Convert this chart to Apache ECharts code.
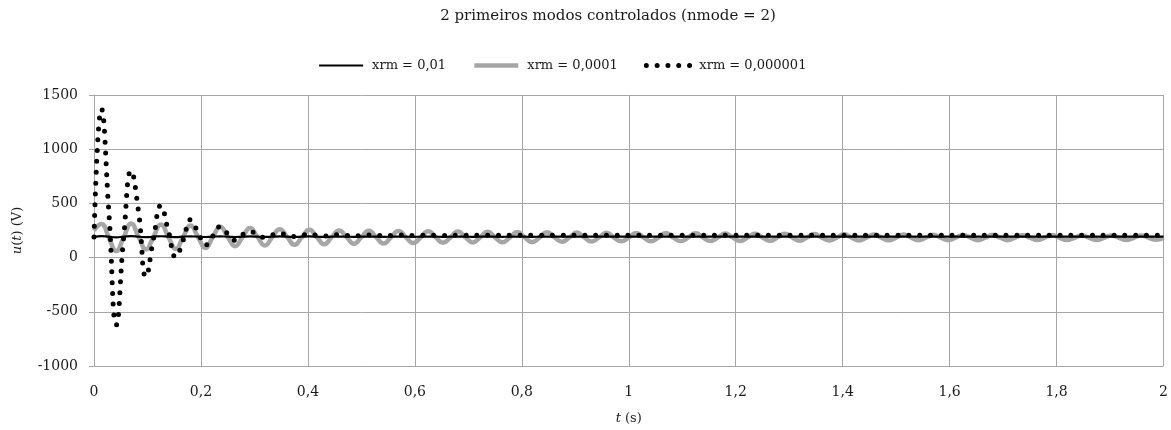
<!DOCTYPE html>
<html>
<head>
<meta charset="utf-8">
<script src="https://cdn.jsdelivr.net/npm/echarts@6/dist/echarts.min.js"></script>
<style>
  html, body { margin: 0; padding: 0; background: #ffffff; }
  #chart { width: 1171px; height: 430px; }
</style>
</head>
<body>
<div id="chart"></div>
<script>
// Control voltage u(t) for three values of the regularisation weight xrm
const chartTitle = '2 primeiros modos controlados (nmode = 2)';
const seriesNames = ['xrm = 0,01', 'xrm = 0,0001', 'xrm = 0,000001'];
const sampleRate = 72; // samples per second, from t = 0 to t = 2 s

const xTickValues = [0, 0.2, 0.4, 0.6, 0.8, 1, 1.2, 1.4, 1.6, 1.8, 2];
const yTickValues = [-1000, -500, 0, 500, 1000, 1500];

// xrm = 0,01 : almost constant command
const uXrm1 = [
  190, 199, 193, 187, 193, 198, 193, 188, 193, 197, 193, 189, 193, 196, 193, 190,
  193, 196, 193, 190, 193, 195, 193, 191, 193, 195, 193, 191, 193, 195, 193, 191,
  193, 194, 193, 192, 193, 194, 193, 192, 193, 194, 193, 192, 193, 194, 193, 192,
  193, 194, 193, 192, 193, 194, 193, 192, 193, 194, 193, 192, 193, 193, 193, 193,
  193, 193, 193, 193, 193, 193, 193, 193, 193, 193, 193, 193, 193, 193, 193, 193,
  193, 193, 193, 193, 193, 193, 193, 193, 193, 193, 193, 193, 193, 193, 193, 193,
  193, 193, 193, 193, 193, 193, 193, 193, 193, 193, 193, 193, 193, 193, 193, 193,
  193, 193, 193, 193, 193, 193, 193, 193, 193, 193, 193, 193, 193, 193, 193, 193,
  193, 193, 193, 193, 193, 193, 193, 193, 193, 193, 193, 193, 193, 193, 193, 193,
  193
];

// xrm = 0,0001 : slowly decaying oscillation
const uXrm2 = [
  250, 310, 185,  60, 188, 315, 192,  75, 190, 305, 192,  80, 190, 295, 191,  88,
  190, 285, 192, 105, 189, 272, 191, 112, 188, 262, 190, 118, 188, 256, 189, 123,
  188, 251, 189, 127, 188, 248, 188, 131, 188, 245, 188, 134, 187, 242, 188, 137,
  187, 240, 188, 140, 187, 238, 187, 142, 187, 236, 187, 144, 186, 234, 187, 146,
  186, 232, 186, 148, 186, 230, 186, 150, 186, 228, 186, 151, 186, 226, 185, 152,
  185, 224, 185, 153, 185, 222, 185, 154, 185, 221, 185, 155, 185, 219, 185, 156,
  185, 217, 184, 157, 184, 215, 184, 158, 184, 213, 184, 159, 184, 212, 184, 160,
  184, 210, 184, 160, 184, 209, 184, 161, 184, 208, 184, 161, 184, 207, 184, 162,
  184, 206, 183, 162, 183, 205, 183, 163, 183, 204, 183, 163, 183, 203, 183, 164,
  183
];

// xrm = 0,000001 : large initial swing, fast settling
const uXrm3 = [
  190, 1370, 420, -620, 191, 800, 420, -175, 170, 480, 250,   5, 160, 350, 235, 115,
  200, 285, 220, 160, 212, 239, 210, 185, 209, 224, 208, 194, 206, 215, 206, 200,
  205, 211, 205, 201, 205, 209, 205, 202, 205, 208, 205, 203, 205, 207, 205, 204,
  206, 207, 206, 205, 206, 207, 206, 205, 206, 207, 206, 205, 206, 206, 206, 206,
  206, 206, 206, 206, 206, 206, 206, 206, 206, 206, 206, 206, 206, 206, 206, 206,
  206, 206, 206, 206, 206, 206, 206, 206, 206, 206, 206, 206, 206, 206, 206, 206,
  206, 206, 206, 206, 206, 206, 206, 206, 206, 206, 206, 206, 206, 206, 206, 206,
  206, 206, 206, 206, 206, 206, 206, 206, 206, 206, 206, 206, 206, 206, 206, 206,
  206, 206, 206, 206, 206, 206, 206, 206, 206, 206, 206, 206, 206, 206, 206, 206,
  206
];

const FONT = 'DejaVu Serif';
const TEXT = '#1a1a1a';
const GRID = '#a6a6a6';

const toPairs = arr => arr.map((v, i) => [i / sampleRate, v]);
const decimalComma = v => String(+v.toFixed(1)).replace('.', ',');
const plainNumber = v => String(v);

const chart = echarts.init(document.getElementById('chart'), null, { renderer: 'canvas' });

chart.setOption({
  animation: false,
  backgroundColor: '#ffffff',
  title: {
    text: chartTitle,
    left: 603,
    top: 4,
    textAlign: 'center',
    textStyle: { fontFamily: FONT, fontSize: 15, fontWeight: 'normal', color: TEXT }
  },
  legend: {
    data: seriesNames,
    left: 313,
    top: 54,
    itemWidth: 44,
    itemHeight: 10,
    itemGap: 26,
    itemStyle: { opacity: 0 },
    lineStyle: { width: 'inherit' },
    textStyle: { fontFamily: FONT, fontSize: 13, color: TEXT, padding: [0, 0, 0, 4] }
  },
  grid: { left: 94, right: 6, top: 95, bottom: 59, containLabel: false },
  xAxis: {
    type: 'value',
    min: xTickValues[0],
    max: xTickValues[xTickValues.length - 1],
    interval: 0.2,
    name: '{i|t} (s)',
    nameLocation: 'middle',
    nameGap: 46,
    nameTextStyle: {
      fontFamily: FONT, fontSize: 13, color: TEXT,
      rich: { i: { fontFamily: FONT, fontSize: 13, fontStyle: 'italic', color: TEXT } }
    },
    axisLine: { show: true, lineStyle: { color: GRID, width: 1 } },
    axisTick: { show: false },
    axisLabel: {
      margin: 19, fontFamily: FONT, fontSize: 14, color: TEXT,
      formatter: decimalComma
    },
    splitLine: { show: true, lineStyle: { color: GRID, width: 1 } }
  },
  yAxis: {
    type: 'value',
    min: yTickValues[0],
    max: yTickValues[yTickValues.length - 1],
    interval: 500,
    name: '{i|u}({i|t}) (V)',
    nameLocation: 'middle',
    nameGap: 70,
    nameRotate: 90,
    nameTextStyle: {
      fontFamily: FONT, fontSize: 13, color: TEXT,
      rich: { i: { fontFamily: FONT, fontSize: 13, fontStyle: 'italic', color: TEXT } }
    },
    axisLine: { show: true, lineStyle: { color: GRID, width: 1 } },
    axisTick: { show: true, length: 5, lineStyle: { color: GRID } },
    axisLabel: { margin: 16, fontFamily: FONT, fontSize: 14, color: TEXT, formatter: plainNumber },
    splitLine: { show: true, lineStyle: { color: GRID, width: 1 } }
  },
  series: [
    {
      name: seriesNames[1],
      type: 'line',
      data: toPairs(uXrm2),
      smooth: 0.5,
      showSymbol: false,
      symbol: 'none',
      z: 2,
      color: '#a6a6a6',
      lineStyle: { color: '#a6a6a6', width: 4.5 }
    },
    {
      name: seriesNames[0],
      type: 'line',
      data: toPairs(uXrm1),
      smooth: 0.5,
      showSymbol: false,
      symbol: 'none',
      z: 3,
      color: '#000000',
      lineStyle: { color: '#000000', width: 2.2 }
    },
    {
      name: seriesNames[2],
      type: 'line',
      data: toPairs(uXrm3),
      smooth: 0.5,
      showSymbol: false,
      symbol: 'none',
      z: 4,
      color: '#000000',
      lineStyle: { color: '#000000', width: 5, type: [0, 10.8], cap: 'round' }
    }
  ]
});
</script>
</body>
</html>
